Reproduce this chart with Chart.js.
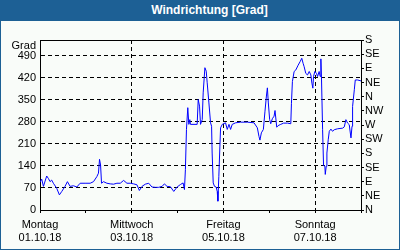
<!doctype html>
<html lang="de">
<head>
<meta charset="UTF-8">
<title>Windrichtung [Grad]</title>
<script src="https://cdn.jsdelivr.net/npm/chart.js"></script>
<style>
    body { margin: 0; }
    #titel { width: 400px; height: 21px; background: #1d6095; color: #fff; font: bold 12px "Liberation Sans"; line-height: 21px; text-align: center; box-sizing: border-box; padding-left: 19px; }
    #rahmen { width: 400px; height: 229px; box-sizing: border-box; border: 1px solid #1d6095; border-top: none; background: #f9fcf9; }
    canvas { display: block; }
</style>
</head>
<body>
<div id="titel">Windrichtung [Grad]</div>
<div id="rahmen"><canvas id="wind" width="398" height="228"></canvas></div>
<script>
    // Stunden seit Montag 01.10.18 00:00
    const stunden = [0, 0.9, 1.8, 3.5, 4.4, 5.25, 6.1, 7, 8.75, 10.15, 11.4, 13.1, 14.35, 15.75, 17.5, 19.25, 21, 23.6,
        26.25, 28, 29.75, 30.6, 31.15, 31.7, 32.2, 33.25, 35, 36.75, 38.5, 40.25, 42, 43.75, 45.5, 47.25,
        49, 50.75, 52, 53.4, 55.1, 56.9, 58.6, 60.4, 62.1, 63.9, 65.1, 66.5, 68.25, 70, 71.75, 73.5, 74.9, 75.6,
        76.1, 76.65, 77.35, 77.9, 78.4, 78.75, 82.25, 82.8, 83.5, 84, 84.9, 85.4, 86.3, 87, 87.5, 88.4, 89.25,
        89.8, 90.1, 90.65, 91.35, 92.2, 92.75, 93.1, 93.6, 94.15, 94.5, 95.4, 97.1, 98, 98.9, 99.75, 100.6,
        102.4, 105, 108.5, 112, 113.75, 114.6, 115.1, 115.85, 116.9, 117.75, 118.5, 119, 119.5, 120.2, 120.75,
        121.6, 122.5, 123, 123.9, 124.6, 126, 127.5, 129.5, 131.25, 131.6, 132.1, 133, 133.9, 135.1, 136.1, 137,
        137.7, 138.25, 139.1, 140, 140.9, 141.75, 142.3, 142.8, 143.15, 143.85, 144.7, 145.25, 146.1, 146.65,
        147, 147.35, 147.9, 148.4, 149.1, 149.3, 149.8, 150.15, 150.85, 151.4, 152.25, 153.1, 154, 155.75,
        158.4, 159.25, 160.1, 161, 161.85, 162.75, 163.3, 163.6, 164.5, 165, 166.25, 168];
    const grad = [88, 98, 75, 108, 100, 90, 95, 85, 69, 48, 59, 75, 90, 75, 77, 73, 85, 85,
        85, 90, 106, 117, 161, 143, 85, 90, 85, 83, 82, 85, 85, 94, 85, 85,
        83, 80, 62, 75, 82, 85, 73, 72, 72, 75, 83, 75, 74, 59, 73, 81, 86, 65,
        128, 256, 325, 272, 287, 272, 272, 351, 330, 272, 287, 372, 452, 441, 404, 340, 277,
        266, 181, 86, 75, 73, 59, 28, 107, 203, 261, 272, 277, 256, 272, 256, 272,
        277, 279, 279, 277, 261, 234, 222, 245, 256, 314, 362, 388, 340, 287, 274,
        290, 298, 316, 263, 268, 272, 276, 276, 274, 339, 408, 440, 445, 460, 471, 482,
        466, 455, 434, 429, 440, 429, 403, 387, 424, 440, 434, 424, 440, 424,
        480, 413, 255, 141, 139, 113, 139, 181, 223, 250, 257, 250, 255, 258,
        260, 264, 287, 276, 271, 229, 266, 329, 382, 413, 413, 410];

    const tage = ['Montag', 'Mittwoch', 'Freitag', 'Sonntag'];
    const daten = ['01.10.18', '03.10.18', '05.10.18', '07.10.18'];
    const richtungen = ['N', 'NE', 'E', 'SE', 'S', 'SW', 'W', 'NW', 'N', 'NE', 'E', 'SE', 'S'];

    const schrift = { family: 'Liberation Sans', size: 11 };

    const rahmen = {
        id: 'rahmen',
        afterDraw(chart) {
            const { ctx, chartArea: a } = chart;
            ctx.save();
            ctx.strokeStyle = '#000';
            ctx.lineWidth = 1;
            ctx.beginPath();
            ctx.moveTo(a.left, Math.round(a.top) + 0.5);
            ctx.lineTo(a.right, Math.round(a.top) + 0.5);
            ctx.stroke();
            ctx.fillStyle = '#000';
            ctx.font = '11px "Liberation Sans"';
            ctx.textAlign = 'right';
            ctx.textBaseline = 'middle';
            ctx.fillText('Grad', a.left - 4, a.top + 6);
            ctx.restore();
        }
    };

    new Chart(document.getElementById('wind'), {
        type: 'line',
        data: {
            datasets: [{
                data: stunden.map((h, i) => ({ x: h, y: grad[i] })),
                borderColor: '#0000ff',
                borderWidth: 1,
                pointRadius: 0,
                tension: 0,
                yAxisID: 'y'
            }]
        },
        options: {
            responsive: false,
            animation: false,
            devicePixelRatio: 1,
            layout: { padding: { top: 19, left: 0, right: 0, bottom: 0 } },
            plugins: { legend: { display: false }, tooltip: { enabled: false } },
            scales: {
                x: {
                    type: 'linear',
                    min: 0,
                    max: 168,
                    afterFit: s => { s.height = 39; },
                    ticks: {
                        stepSize: 24,
                        autoSkip: false,
                        maxRotation: 0,
                        padding: 5,
                        color: '#000',
                        font: schrift,
                        callback: v => (v % 48 === 0 && v < 168) ? [tage[v / 48], daten[v / 48]] : ''
                    },
                    grid: {
                        color: c => (c.tick && c.tick.value % 48 === 0 && c.tick.value > 0 && c.tick.value < 168) ? '#000' : 'rgba(0,0,0,0)',
                        tickColor: '#000',
                        tickLength: 3
                    },
                    border: { color: '#000', dash: [4, 3] }
                },
                y: {
                    position: 'left',
                    min: 0,
                    max: 540,
                    afterFit: s => { s.width = 39; },
                    afterBuildTicks: s => { s.ticks = s.ticks.filter(t => t.value <= 490); },
                    ticks: { stepSize: 70, autoSkip: false, padding: 4, color: '#000', font: schrift },
                    grid: { color: '#000', drawTicks: false },
                    border: { color: '#000', dash: [4, 3] }
                },
                y1: {
                    position: 'right',
                    min: 0,
                    max: 540,
                    afterFit: s => { s.width = 38; },
                    ticks: {
                        stepSize: 45,
                        autoSkip: false,
                        padding: 1,
                        color: '#000',
                        font: schrift,
                        callback: v => richtungen[v / 45]
                    },
                    grid: { drawOnChartArea: false, color: '#000', tickLength: 3 },
                    border: { color: '#000' }
                }
            }
        },
        plugins: [rahmen]
    });
</script>
</body>
</html>
